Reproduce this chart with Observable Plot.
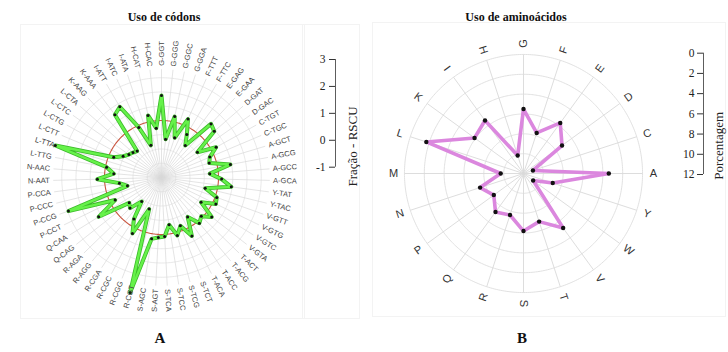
<!DOCTYPE html>
<html><head><meta charset="utf-8">
<script src="https://cdn.jsdelivr.net/npm/d3@7"></script>
<script src="https://cdn.jsdelivr.net/npm/@observablehq/plot@0.6"></script>
<style>
body{margin:0;background:#fff;}
#root{position:relative;width:728px;height:352px;overflow:hidden;background:#fff;font-family:"Liberation Serif",serif;color:#111;}
.abs{position:absolute;}
.title{font-weight:bold;font-size:12px;line-height:16px;transform:translateX(-50%);white-space:nowrap;}
.panel{font-weight:bold;font-size:15px;line-height:18px;transform:translateX(-50%);}
.box{position:absolute;border:1px solid #f3f3f3;}
svg{overflow:visible}
</style></head><body><div id="root"></div>
<script>
// ---- data ----
const codons = ["G-GGT","G-GGG","G-GGC","G-GGA","F-TTT","F-TTC","E-GAG","E-GAA","D-GAT","D-GAC","C-TGT","C-TGC","A-GCT","A-GCG","A-GCC","A-GCA","Y-TAT","Y-TAC","V-GTT","V-GTG","V-GTC","V-GTA","T-ACT","T-ACG","T-ACC","T-ACA","S-TCT","S-TCG","S-TCC","S-TCA","S-AGT","S-AGC","R-CGT","R-CGG","R-CGC","R-CGA","R-AGG","R-AGA","Q-CAG","Q-CAA","P-CCT","P-CCG","P-CCC","P-CCA","N-AAT","N-AAC","L-TTG","L-TTA","L-CTT","L-CTG","L-CTC","L-CTA","K-AAG","K-AAA","I-ATT","I-ATC","I-ATA","H-CAT","H-CAC"];
const rscu = [1.88,0.35,1.19,0.47, 1.25,0.75, 0.40,1.56, 1.46,0.54, 1.19,0.84, 0.75,1.46,0.70,1.11, 1.47,0.58, 1.06,1.12,0.64,1.24, 0.95,1.08,0.66,1.31, 0.82,1.11,0.68,1.07,1.11,1.18, 3.18,0.19,1.21,0.75,0.09,0.54, 0.44,1.60, 0.81,2.47,0.23,0.49, 1.25,0.68, 0.96,2.89,0.82,0.54,0.40,0.33, 0.26,1.74, 1.88,0.93,0.19, 1.23,0.74];
const aminoacids = ["G","F","E","D","C","A","Y","W","V","T","S","R","Q","P","N","M","L","K","I","H"];
const percentages = [6.5,4.3,6.3,4.8,1.0,8.6,3.1,1.2,6.8,5.1,5.8,4.4,4.8,3.7,4.6,2.3,10.3,6.1,6.6,1.9];
const rscuTicks = [-1,0,1,2,3];
const rscuRings = [-0.5,0,0.5,1.5,2,2.5];
const rscuReference = [1];
const percTicks = [0,2,4,6,8,10,12];
const percRings = [2,4,6,8,10,12];

// ---- helpers ----
const root = document.getElementById("root");
const lon = t => 180 - t; // clockwise angle from top -> longitude
const circle = r => d3.geoCircle().center([0, 90]).radius(r).precision(1)();
function place(el, left, top, w, h) {
  const d = document.createElement("div");
  d.className = "abs";
  d.style.left = left + "px"; d.style.top = top + "px";
  if (w) d.style.width = w + "px";
  if (h) d.style.height = h + "px";
  d.appendChild(el); root.appendChild(d); return d;
}
function html(cls, text, left, top) {
  const d = document.createElement("div");
  d.className = "abs " + cls; d.textContent = text;
  d.style.left = left + "px"; d.style.top = top + "px";
  root.appendChild(d);
}
const svgStyle = {background: "transparent", overflow: "visible"};

// faint panel frames
[[20,24,283,293],[302,24,56,293],[372,22,352,293]].forEach(([l,t,w,h]) => {
  const b = document.createElement("div"); b.className = "box";
  b.style.left = l+"px"; b.style.top = t+"px"; b.style.width = w+"px"; b.style.height = h+"px";
  root.appendChild(b);
});

// ---- left radar: codon usage (RSCU) ----
const pxC = 28.5; // pixels per RSCU unit, -1 at the centre
const rC = v => v + 1;
const stepC = 360 / codons.length;
const codonRows = codons.map((c, i) => ({codon: c, value: rscu[i], theta: i * stepC}));
const left = Plot.plot({
  width: 300, height: 300, margin: 0, style: svgStyle,
  projection: {type: "azimuthal-equidistant", rotate: [0, -90], domain: circle(150 / pxC)},
  marks: [
    Plot.geo(rscuRings, {geometry: v => circle(rC(v)), stroke: "#dedede", strokeWidth: 0.7, fill: "none"}),
    Plot.link(codonRows, {x1: d => lon(d.theta), y1: 90 - 3.8, x2: d => lon(d.theta), y2: 90, stroke: "#d9d9d9", strokeWidth: 0.7}),
    Plot.geo(rscuReference, {geometry: v => circle(rC(v)), stroke: "#c9553f", strokeWidth: 1.1, fill: "none"}),
    Plot.line(codonRows, {x: d => lon(d.theta), y: d => 90 - rC(d.value), curve: "linear-closed", stroke: "#3dba2b", strokeWidth: 4, strokeLinejoin: "round"}),
    Plot.line(codonRows, {x: d => lon(d.theta), y: d => 90 - rC(d.value), curve: "linear-closed", stroke: "#66f24a", strokeWidth: 2.4, strokeLinejoin: "round"}),
    Plot.dot(codonRows, {x: d => lon(d.theta), y: d => 90 - rC(d.value), r: 1.5, fill: "#111"}),
    Plot.text(codonRows.filter(d => d.theta < 180), {x: d => lon(d.theta), y: 90 - 3.92, text: "codon", rotate: d => d.theta - 90, textAnchor: "start", fontSize: 7.5, fontFamily: "Liberation Sans", fill: "#444"}),
    Plot.text(codonRows.filter(d => d.theta >= 180), {x: d => lon(d.theta), y: 90 - 3.92, text: "codon", rotate: d => d.theta - 270, textAnchor: "end", fontSize: 7.5, fontFamily: "Liberation Sans", fill: "#444"})
  ]
});
place(left, 11, 27, 300, 300);

// ---- left legend axis ----
const legL = Plot.plot({
  width: 70, height: 140, marginTop: 19, marginBottom: 13.3, marginLeft: 35, marginRight: 0, style: svgStyle,
  x: {domain: [0, 1], axis: null},
  y: {domain: [-1, 3], axis: null},
  marks: [
    Plot.ruleX([0], {y1: -1, y2: 3, stroke: "#333", strokeWidth: 0.8}),
    Plot.axisY({ticks: rscuTicks, anchor: "left", tickSize: 6, tickPadding: 4, tickFormat: d => String(d), fontSize: 11.5, fontFamily: "Liberation Serif", stroke: "#333", fill: "#222", label: null}),
    Plot.text(["Fração - RSCU"], {frameAnchor: "right", dx: -18, dy: -7, rotate: -90, fontSize: 13, fontFamily: "Liberation Serif", fill: "#222"})
  ]
});
place(legL, 300, 40, 70, 140);

// ---- right radar: amino acid usage (%) ----
const pxA = 9.92; // pixels per percent
const stepA = 360 / aminoacids.length;
const aminoRows = aminoacids.map((a, i) => ({aa: a, value: percentages[i], theta: i * stepA}));
const right = Plot.plot({
  width: 300, height: 300, margin: 0, style: svgStyle,
  projection: {type: "azimuthal-equidistant", rotate: [0, -90], domain: circle(150 / pxA)},
  marks: [
    Plot.geo(percRings, {geometry: v => circle(v), stroke: "#dedede", strokeWidth: 0.9, fill: "none"}),
    Plot.link(aminoRows, {x1: d => lon(d.theta), y1: 90 - 12, x2: d => lon(d.theta), y2: 90, stroke: "#d9d9d9", strokeWidth: 0.9}),
    Plot.line(aminoRows, {x: d => lon(d.theta), y: d => 90 - d.value, curve: "linear-closed", stroke: "#db87de", strokeWidth: 3.6, strokeLinejoin: "round"}),
    Plot.dot(aminoRows, {x: d => lon(d.theta), y: d => 90 - d.value, r: 2.2, fill: "#111"}),
    Plot.text(aminoRows, {x: d => lon(d.theta), y: 90 - 13.1, text: "aa", rotate: d => d.theta <= 180 ? d.theta - 90 : d.theta - 270, fontSize: 11, fontFamily: "Liberation Sans", fill: "#333"})
  ]
});
place(right, 373, 23, 300, 300);

// ---- right legend axis ----
const legR = Plot.plot({
  width: 78, height: 150, marginTop: 12.7, marginBottom: 16, marginLeft: 53, marginRight: 0, style: svgStyle,
  x: {domain: [0, 1], axis: null},
  y: {domain: [0, 12], reverse: true, axis: null},
  marks: [
    Plot.ruleX([0], {y1: 0, y2: 12, stroke: "#333", strokeWidth: 0.8}),
    Plot.axisY({ticks: percTicks, anchor: "left", tickSize: 6, tickPadding: 3, tickFormat: d => String(d), fontSize: 11.5, fontFamily: "Liberation Serif", stroke: "#333", fill: "#222", label: null}),
    Plot.text(["Porcentagem"], {frameAnchor: "right", dx: -10, dy: -2, rotate: -90, fontSize: 13, fontFamily: "Liberation Serif", fill: "#222"})
  ]
});
place(legR, 650, 40, 78, 150);

// ---- titles ----
html("title", "Uso de códons", 164, 9);
html("title", "Uso de aminoácidos", 516, 9);
html("panel", "A", 160, 329);
html("panel", "B", 522, 329);
</script>
</body></html>
